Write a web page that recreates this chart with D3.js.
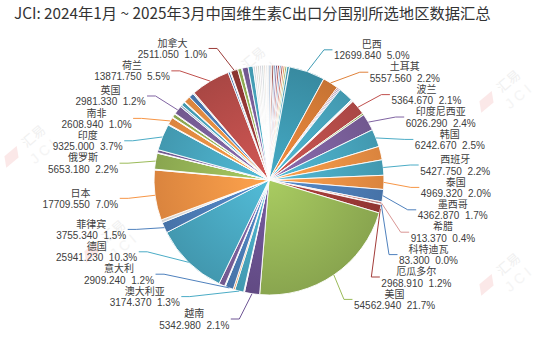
<!DOCTYPE html>
<html><head><meta charset="utf-8">
<script src="https://cdn.jsdelivr.net/npm/d3@7/dist/d3.min.js"></script>
<style>body{margin:0;background:#fff}svg{display:block}</style>
</head><body><svg id="c" width="554" height="337"></svg>
<script>
const title = "JCI: 2024年1月 ~ 2025年3月中国维生素C出口分国别所选地区数据汇总";

// slices in clockwise order from 12 o'clock ("" = unlabelled other regions)
const sliceNames = [
  "","","","","","","","","","","",
  "巴西","土耳其",
  "","","","","","",
  "波兰","","印度尼西亚","韩国","","西班牙","泰国","墨西哥","希腊","科特迪瓦","厄瓜多尔","美国",
  "越南","","澳大利亚","","意大利","","",
  "德国","菲律宾","","日本","","俄罗斯","","","印度",
  "","南非","","","","英国","","","","","","",
  "荷兰","","","加拿大","","","","",
  "","","","","","","","",""
];
const sliceValues = [
  700,350,700,550,700,700,600,700,650,650,900,
  12699.84,5557.56,
  450,450,400,5240,400,400,
  5364.67,630,6026.29,6242.67,4800,5427.75,4969.32,4362.87,913.37,83.30,2968.91,54562.94,
  5342.98,300,3174.37,600,2909.24,300,2100,
  25941.23,3755.34,1050,17709.55,280,5653.18,200,1050,9325.00,
  280,2608.94,280,1260,280,2981.33,700,1300,300,2300,1700,500,
  13871.75,700,280,2511.05,1400,210,2100,1750,
  800,700,750,700,800,650,150,600,450
];
const B="#4F81BD",R="#C0504D",G="#9BBB59",P="#8064A2",A="#4BACC6",O="#F79646",DR="#9B3B38",L="#EDEDED";
const sliceColors = [
  B,O,DR,B,P,R,B,R,O,G,A,
  "#3F9CB5","#E0823A",
  R,P,"#6A73B0",A,"#D6E8EF",L,
  R,G,P,A,O,A,O,B,"#D99694",B,"#A33C39",G,
  "#6E5494",L,A,O,B,L,P,
  A,B,L,O,L,G,L,P,A,
  L,O,L,G,L,P,"#A9C9E2",A,L,O,B,L,
  R,B,L,DR,G,L,P,A,
  "#EFF3F8","#F7EDED","#F1F5EA","#F2EEF6","#ECF5F8","#FDF1E8",O,"#EEF2F8","#F5F5F5"
];

const cx=269, cy=180, r=115;
const font = "'Noto Sans CJK SC','Noto Sans',sans-serif";
const labelFont = "'Liberation Sans','Noto Sans CJK SC',sans-serif";
const textCol = "#404040";
const svg = d3.select("#c");
svg.append("rect").attr("width",554).attr("height",337).attr("fill","#fff");

// faint watermark
const wm = [[30,140],[250,62],[505,85],[110,235],[330,222],[505,268]];
wm.forEach(([x,y])=>{
  const g = svg.append("g").attr("transform",`translate(${x},${y}) rotate(-40)`).attr("opacity",0.55);
  g.append("path").attr("d","M-30,-4 L-14,-4 L-20,6 L-36,6 Z").attr("fill","#f9d6d6");
  g.append("text").attr("x",-8).attr("y",4).attr("font-family",font).attr("font-size",13).attr("fill","#e4e4e4").text("汇易");
  g.append("text").attr("x",-12).attr("y",22).attr("font-family","Verdana,sans-serif").attr("font-size",14).attr("fill","#ececec").attr("letter-spacing",4).text("JCI");
});

svg.append("text").attr("x",14).attr("y",19).attr("font-family",font).attr("font-size",15.3)
  .attr("fill","#333").text(title);

const data = sliceValues.map((v,i)=>({name:sliceNames[i],value:v,color:sliceColors[i]}));
const total = d3.sum(sliceValues);
const arcs = d3.pie().sort(null).value(d=>d.value).startAngle(0).endAngle(2*Math.PI)(data);

const defs = svg.append("defs");
const uniq = [...new Set(sliceColors)];
const gid = {};
uniq.forEach((c,i)=>{
  gid[c]="g"+i;
  const g = defs.append("radialGradient").attr("id","g"+i).attr("gradientUnits","userSpaceOnUse")
    .attr("cx",0).attr("cy",0).attr("r",r);
  g.append("stop").attr("offset","0%").attr("stop-color",d3.color(c).brighter(0.25).formatHex());
  g.append("stop").attr("offset","100%").attr("stop-color",d3.color(c).darker(0.35).formatHex());
});

const pieG = svg.append("g").attr("transform",`translate(${cx},${cy})`);
const arc = d3.arc().innerRadius(0).outerRadius(r);
pieG.selectAll("path").data(arcs).join("path")
  .attr("d",arc).attr("fill",d=>`url(#${gid[d.data.color]})`)
  .attr("stroke","#fff").attr("stroke-width",0.9).attr("stroke-linejoin","round");

// labels
const fmtV = d3.format(".3f");
const labels = arcs.filter(d=>d.data.name).map(d=>{
  const a=(d.startAngle+d.endAngle)/2;
  return {d, a, side: Math.sin(a)>=0?1:-1, y: cy-138*Math.cos(a)};
});
const gap=22.4, yTop=46, yBottom=319;
[1,-1].forEach(s=>{
  const Ls=labels.filter(l=>l.side===s).sort((p,q)=>p.y-q.y);
  for(let i=0;i<Ls.length;i++){ Ls[i].y=Math.max(Ls[i].y, i?Ls[i-1].y+gap:yTop); }
  for(let i=Ls.length-1;i>=0;i--){ Ls[i].y=Math.min(Ls[i].y, i<Ls.length-1?Ls[i+1].y-gap:yBottom); }
});
const lineG = svg.append("g"), textG = svg.append("g");
labels.forEach(l=>{
  const dy=l.y-cy, t=Math.max(1-(dy/144)**2,0.05);
  const edge = cx + l.side*152*Math.sqrt(t);
  const p0=[cx+r*Math.sin(l.a), cy-r*Math.cos(l.a)];
  const elbow=[edge - l.side*10, l.y];
  lineG.append("polyline").attr("points",[p0,elbow,[edge-l.side*1.5,l.y]].map(p=>p.join(",")).join(" "))
    .attr("fill","none").attr("stroke",l.d.data.color).attr("stroke-width",1);
  const g=textG.append("g");
  const t1=g.append("text").attr("y",l.y-1.8).text(l.d.data.name);
  const t2=g.append("text").attr("y",l.y+9.5)
    .text(fmtV(l.d.data.value)+"\u00a0\u00a0"+(l.d.data.value/total*100).toFixed(1)+"%");
  g.selectAll("text").attr("font-family",labelFont).attr("font-size",10).attr("fill",textCol).attr("text-anchor","middle");
  const w=Math.max(t1.node().getComputedTextLength(),t2.node().getComputedTextLength());
  const x=edge + l.side*w/2;
  g.selectAll("text").attr("x",x);
});
</script></body></html>
